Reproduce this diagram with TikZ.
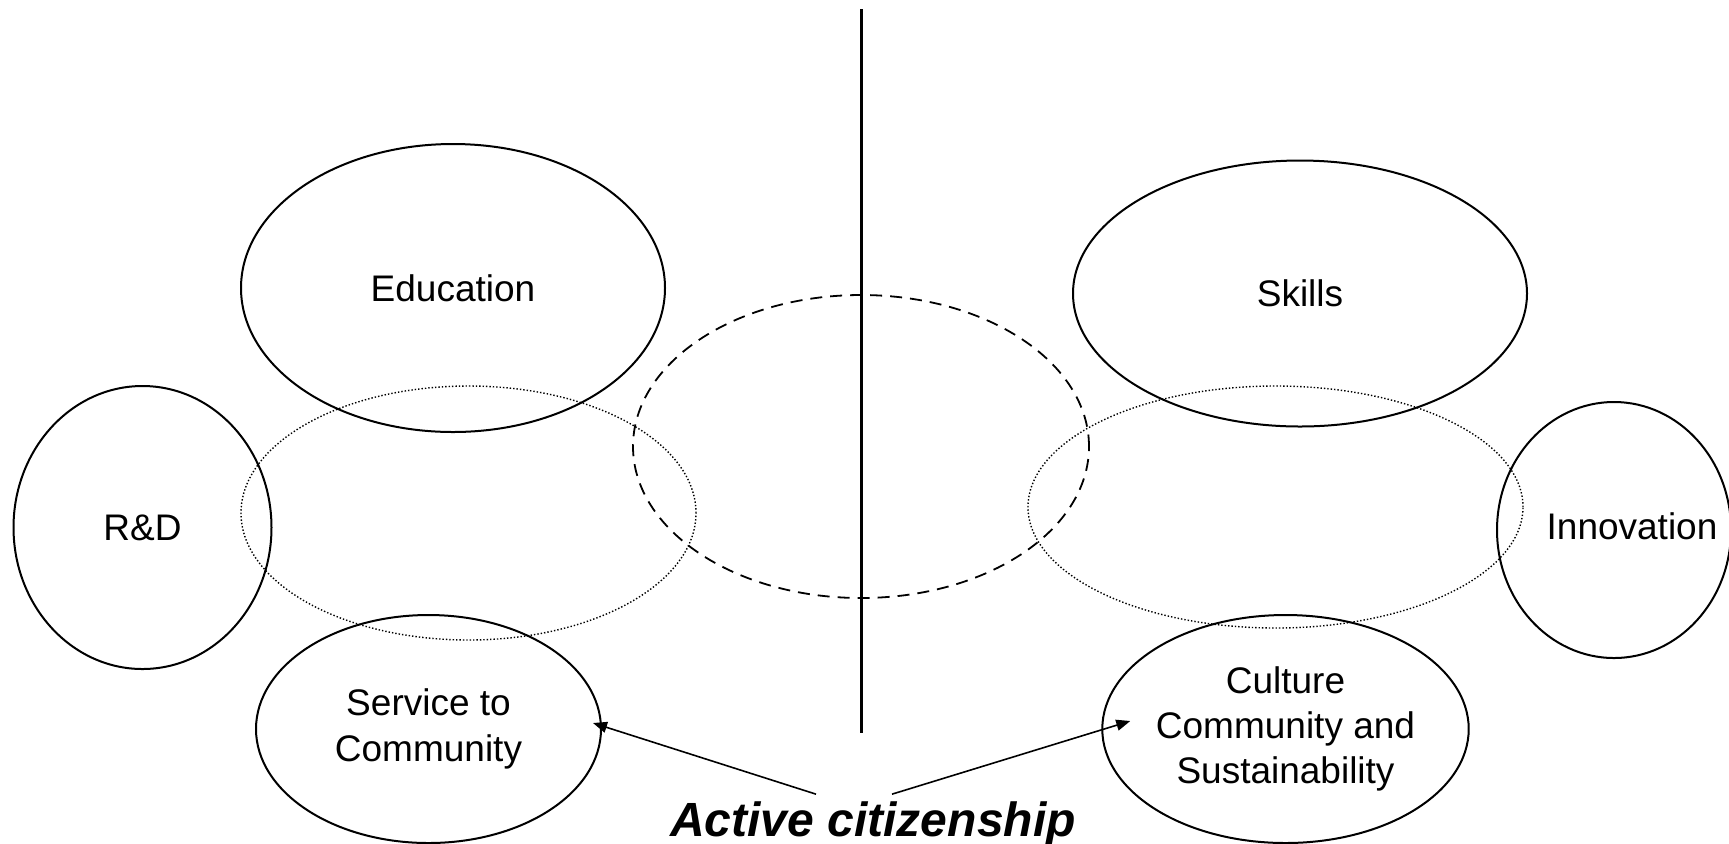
\documentclass[tikz,border=0pt]{standalone}
\usepackage{fontspec}
\setmainfont{Liberation Sans}
\usetikzlibrary{shapes.geometric,arrows.meta}

\begin{document}
\begin{tikzpicture}[
      x=0.5pt,y=-0.5pt,
      field/.style={
         ellipse,
         draw=black,
         line width=1pt,
         inner sep=0pt,
         align=center,
         font=\fontsize{18.5}{22.6}\selectfont
      },
      overlap/.style={
         ellipse,
         draw=black,
         line width=0.7pt,
         densely dotted,
         inner sep=0pt
      },
      core/.style={
         ellipse,
         draw=black,
         line width=0.9pt,
         dash pattern=on 6pt off 4pt,
         inner sep=0pt
      },
      divider/.style={line width=1.5pt},
      link/.style={-{Triangle[length=7pt,width=5.5pt]},line width=0.8pt},
      motto/.style={font=\fontsize{24}{28}\selectfont\bfseries\itshape}
    ]
    \useasboundingbox (0,0) rectangle (1729,843);
    % university missions
    \node (edu) [field, minimum width=212pt, minimum height=144pt] at (453,288) {Education};
    \node (skl) [field, minimum width=227pt, minimum height=133pt] at (1300,293.5) {Skills};
    \node (rnd) [field, minimum width=129pt, minimum height=141.5pt] at (142.5,527.5) {R\&D};
    \node (inn) [field, minimum width=117pt, minimum height=128pt,
       label={[font=\fontsize{18.5}{22.2}\selectfont, xshift=9pt, yshift=2pt]center:Innovation}] at (1614,530) {};
    \node (svc) [field, minimum width=172.5pt, minimum height=114pt] at (428.5,729) {Service to\\Community};
    \node (cul) [field, minimum width=182.5pt, minimum height=114pt] at (1285.5,729) {Culture\\Community and\\Sustainability};
    % overlaps
    \node (ovl) [overlap, minimum width=227.5pt, minimum height=127pt] at (468.5,513) {};
    \node (ovr) [overlap, minimum width=247.5pt, minimum height=121pt] at (1275.5,507) {};
    \node (mid) [core, minimum width=228pt, minimum height=151.5pt] at (861,446.5) {};
    % divider
    \coordinate (divtop) at (861,9);
    \coordinate (divbot) at (861,733);
    \draw [divider] (divtop) -- (divbot);
    % active citizenship
    \node (act) [motto, anchor=base] at (873,836) {Active citizenship};
    \draw [link] ([xshift=-28.5pt]act.north) -- ([shift={(-4.5pt,3pt)}]svc.east);
    \draw [link] ([xshift=9.5pt]act.north) -- ([shift={(14.5pt,4pt)}]cul.west);
\end{tikzpicture}
\end{document}
